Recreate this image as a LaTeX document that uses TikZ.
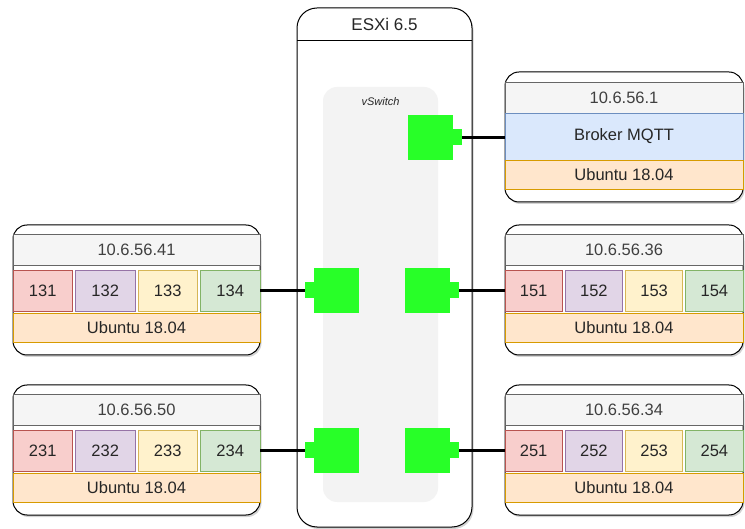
\documentclass[tikz,border=0pt]{standalone}
\usepackage{fontspec}
\setmainfont{Liberation Sans}
\usepackage{tikz}
\usetikzlibrary{positioning, shadows}
\usepackage{xcolor}
\definecolor{portgreen}{RGB}{40,255,40}
\definecolor{hdrfill}{HTML}{F5F5F5}
\definecolor{hdrline}{HTML}{666666}
\definecolor{osfill}{HTML}{FFE6CC}
\definecolor{osline}{HTML}{D79B00}
\definecolor{redfill}{HTML}{F8CECC}
\definecolor{redline}{HTML}{B85450}
\definecolor{purplefill}{HTML}{E1D5E7}
\definecolor{purpleline}{HTML}{9673A6}
\definecolor{yellowfill}{HTML}{FFF2CC}
\definecolor{yellowline}{HTML}{D6B656}
\definecolor{greenfill}{HTML}{D5E8D4}
\definecolor{greenline}{HTML}{82B366}
\definecolor{bluefill}{HTML}{DAE8FC}
\definecolor{blueline}{HTML}{6C8EBF}
\definecolor{switchfill}{HTML}{F3F3F3}
% host with four VM cells: name, x, y, width, ip, cells
\newcommand{\vmhost}[9]{%
  \node[hostbox, minimum width=#4pt, anchor=north west] (#1-box) at (#2,#3) {};
  \node[iprow, minimum width=#4pt, anchor=north west] (#1-ip) at ([yshift=-9pt]#1-box.north west) {#5};
  \node[cell, fill=redfill, draw=redline, minimum width={(#4pt-9pt)/4}, anchor=north west] (#1-c1) at ([yshift=-45pt]#1-box.north west) {#6};
  \node[cell, fill=purplefill, draw=purpleline, minimum width={(#4pt-9pt)/4}, right=3pt of #1-c1] (#1-c2) {#7};
  \node[cell, fill=yellowfill, draw=yellowline, minimum width={(#4pt-9pt)/4}, right=3pt of #1-c2] (#1-c3) {#8};
  \node[cell, fill=greenfill, draw=greenline, minimum width={(#4pt-9pt)/4}, right=3pt of #1-c3] (#1-c4) {#9};
  \node[osrow, minimum width=#4pt, anchor=north west] (#1-os) at ([yshift=-88pt]#1-box.north west) {Ubuntu 18.04};
}

\begin{document}
\begin{tikzpicture}[
    x=1pt, y=-1pt,
    every node/.style={font=\fontsize{16.5}{19}\selectfont, text=black!85},
    % Host boxes
    hostbox/.style={
      draw=black, line width=1pt, fill=white, rounded corners=14pt,
      minimum height=130pt, inner sep=0pt, outer sep=0pt,
      drop shadow={shadow xshift=1.5pt, shadow yshift=-2pt, opacity=0.35}
    },
    iprow/.style={draw=hdrline, fill=hdrfill, line width=0.6pt,
      minimum height=31pt, inner sep=0pt, outer sep=0pt, text=black!75},
    cell/.style={line width=0.6pt, minimum height=41pt, inner sep=0pt, outer sep=0pt},
    osrow/.style={draw=osline, fill=osfill, line width=0.6pt,
      minimum height=29pt, inner sep=0pt, outer sep=0pt},
    % ESXi and vSwitch
    esxibox/.style={
      draw=black, line width=1pt, fill=white, rounded corners=20pt,
      minimum width=175pt, minimum height=519pt, inner sep=0pt, outer sep=0pt,
      drop shadow={shadow xshift=1.5pt, shadow yshift=-2pt, opacity=0.35}
    },
    switchbox/.style={fill=switchfill, rounded corners=14pt,
      minimum width=115pt, minimum height=415pt, inner sep=0pt, outer sep=0pt},
    % Ports and links
    port/.style={fill=portgreen, minimum size=45pt, inner sep=0pt, outer sep=0pt},
    porttab/.style={fill=portgreen, minimum width=9pt, minimum height=16pt,
      inner sep=0pt, outer sep=0pt},
    link/.style={line width=3.6pt, black}
  ]
  \useasboundingbox (0,0) rectangle (745,529);

  % ============ ESXi ============
  \node[esxibox, anchor=north west] (esxi) at (297,8) {};
  \node[minimum height=32pt, anchor=north, font=\fontsize{17}{20}\selectfont] (esxi-title) at (esxi.north) {ESXi 6.5};
  \draw[line width=1pt] (esxi.west |- esxi-title.south) -- (esxi.east |- esxi-title.south);

  \node[switchbox, anchor=north west] (vswitch) at (323,87) {};
  \node[below=7pt of vswitch.north, font=\itshape\fontsize{11}{13}\selectfont] (vswitch-lbl) {vSwitch};

  % ============ Broker ============
  \node[hostbox, minimum width=238pt, anchor=north west] (broker-box) at (505,72) {};
  \node[iprow, minimum width=238pt, anchor=north west] (broker-ip) at ([yshift=-10pt]broker-box.north west) {10.6.56.1};
  \node[cell, fill=bluefill, draw=blueline, minimum width=238pt, minimum height=47pt, below=0pt of broker-ip] (broker-app) {Broker MQTT};
  \node[osrow, minimum width=238pt, below=0pt of broker-app] (broker-os) {Ubuntu 18.04};

  % ============ Hosts ============
  \vmhost{h41}{13}{225}{247}{10.6.56.41}{131}{132}{133}{134}
  \vmhost{h50}{13}{385}{247}{10.6.56.50}{231}{232}{233}{234}
  \vmhost{h36}{505}{225}{238}{10.6.56.36}{151}{152}{153}{154}
  \vmhost{h34}{505}{385}{238}{10.6.56.34}{251}{252}{253}{254}

  % ============ Ports ============
  \node[port] (port-tr) at (430.5,137.5) {};
  \node[porttab, right=0pt of port-tr] (tab-tr) {};
  \node[port] (port-ml) at (336.5,290.5) {};
  \node[porttab, left=0pt of port-ml] (tab-ml) {};
  \node[port] (port-mr) at (427.5,290.5) {};
  \node[porttab, right=0pt of port-mr] (tab-mr) {};
  \node[port] (port-bl) at (336.5,450.5) {};
  \node[porttab, left=0pt of port-bl] (tab-bl) {};
  \node[port] (port-br) at (427.5,450.5) {};
  \node[porttab, right=0pt of port-br] (tab-br) {};

  % ============ Links ============
  \draw[link] (tab-tr.east) -- (tab-tr.east -| broker-box.west);
  \draw[link] (h41-box.east |- tab-ml.west) -- (tab-ml.west);
  \draw[link] (tab-mr.east) -- (tab-mr.east -| h36-box.west);
  \draw[link] (h50-box.east |- tab-bl.west) -- (tab-bl.west);
  \draw[link] (tab-br.east) -- (tab-br.east -| h34-box.west);

\end{tikzpicture}
\end{document}
